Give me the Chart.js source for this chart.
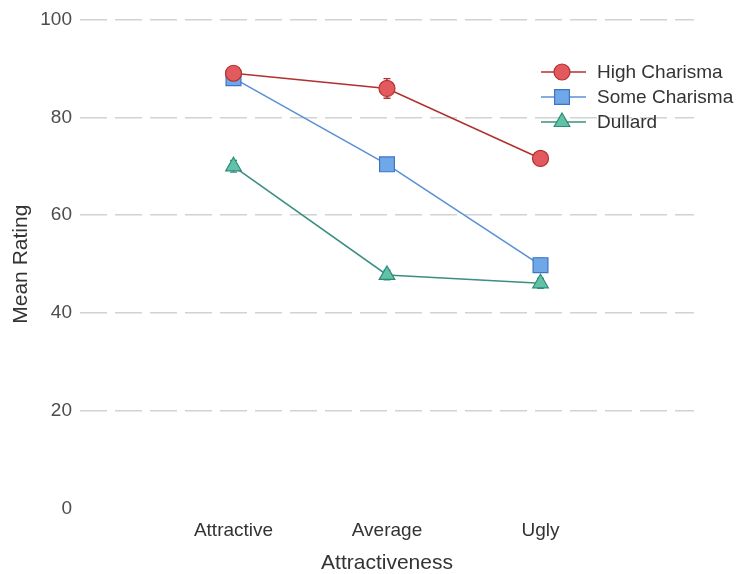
<!DOCTYPE html>
<html>
<head>
<meta charset="utf-8">
<script src="https://cdn.jsdelivr.net/npm/chart.js@4/dist/chart.umd.min.js"></script>
<style>
  html, body { margin: 0; padding: 0; background: #ffffff; }
  #wrap { width: 737px; height: 574px; position: relative; }
</style>
</head>
<body>
<div id="wrap"><canvas id="c" width="737" height="574"></canvas></div>
<script>
const categories = ['Attractive', 'Average', 'Ugly'];
const seriesNames = ['High Charisma', 'Some Charisma', 'Dullard'];
const highCharisma = [89.0, 85.9, 71.6];
const someCharisma = [88.0, 70.4, 49.8];
const dullard = [70.0, 47.8, 46.1];
const highErr = [1.2, 2.0, 1.2];
const someErr = [1.2, 1.2, 1.4];
const dullErr = [1.2, 1.0, 1.0];
const yTicks = [0, 20, 40, 60, 80, 100];

const styles = [
  { line: '#b3302f', fill: '#e35a5e', border: '#b3302f', shape: 'circle', r: 8 },
  { line: '#5a91d6', fill: '#6ea8e8', border: '#3f74c2', shape: 'rect', r: 10.5 },
  { line: '#3a8f80', fill: '#62c2a8', border: '#2d8a76', shape: 'triangle', r: 9 }
];
const values = [highCharisma, someCharisma, dullard];
const errors = [highErr, someErr, dullErr];

const datasets = values.map((vals, s) => ({
  label: seriesNames[s],
  data: vals.map((v, i) => ({ x: i + 1, y: v })),
  borderColor: styles[s].line,
  borderWidth: 1.6,
  backgroundColor: styles[s].fill,
  pointBackgroundColor: styles[s].fill,
  pointBorderColor: styles[s].border,
  pointBorderWidth: 1.2,
  pointStyle: styles[s].shape,
  pointRadius: styles[s].r,
  pointHoverRadius: styles[s].r,
  tension: 0,
  fill: false
}));

const errorBarPlugin = {
  id: 'errorBars',
  beforeDatasetsDraw(chart) {
    const ctx = chart.ctx;
    const xs = chart.scales.x, ys = chart.scales.y;
    ctx.save();
    errors.forEach((errs, s) => {
      ctx.strokeStyle = styles[s].line;
      ctx.lineWidth = 1.4;
      errs.forEach((e, i) => {
        const x = xs.getPixelForValue(i + 1);
        const y1 = ys.getPixelForValue(values[s][i] - e);
        const y2 = ys.getPixelForValue(values[s][i] + e);
        ctx.beginPath();
        ctx.moveTo(x, y1); ctx.lineTo(x, y2);
        ctx.moveTo(x - 3.5, y1); ctx.lineTo(x + 3.5, y1);
        ctx.moveTo(x - 3.5, y2); ctx.lineTo(x + 3.5, y2);
        ctx.stroke();
      });
    });
    ctx.restore();
  }
};

function drawShape(ctx, shape, r, x, y) {
  if (shape === 'circle') {
    ctx.arc(x, y, r, 0, Math.PI * 2);
  } else if (shape === 'rect') {
    const h = r * Math.SQRT1_2;
    ctx.rect(x - h, y - h, 2 * h, 2 * h);
  } else {
    const a = Math.PI * 2 / 3;
    ctx.moveTo(x, y - r);
    ctx.lineTo(x + r * Math.sin(a), y - r * Math.cos(a));
    ctx.lineTo(x - r * Math.sin(a), y - r * Math.cos(a));
    ctx.closePath();
  }
}

const legendPlugin = {
  id: 'customLegend',
  afterDraw(chart) {
    const ctx = chart.ctx;
    ctx.save();
    const x0 = 541, x1 = 586, mx = 562, tx = 597;
    const ys = [72, 97, 122];
    ctx.font = '19px "Liberation Sans", Arial, sans-serif';
    ctx.textBaseline = 'middle';
    ctx.textAlign = 'left';
    seriesNames.forEach((name, s) => {
      const y = ys[s];
      ctx.strokeStyle = styles[s].line;
      ctx.lineWidth = 1.6;
      ctx.beginPath(); ctx.moveTo(x0, y); ctx.lineTo(x1, y); ctx.stroke();
      ctx.fillStyle = styles[s].fill;
      ctx.strokeStyle = styles[s].border;
      ctx.lineWidth = 1.2;
      ctx.beginPath();
      drawShape(ctx, styles[s].shape, styles[s].r, mx, y);
      ctx.fill(); ctx.stroke();
      ctx.fillStyle = '#333333';
      ctx.fillText(name, tx, y + 1);
    });
    ctx.restore();
  }
};

Chart.defaults.font.family = '"Liberation Sans", Arial, sans-serif';
Chart.defaults.color = '#4d4d4d';

new Chart(document.getElementById('c'), {
  type: 'line',
  data: { datasets },
  options: {
    responsive: false,
    animation: false,
    devicePixelRatio: 1,
    layout: { padding: { left: 0, top: 16, right: 43, bottom: 0 } },
    plugins: { legend: { display: false }, tooltip: { enabled: false } },
    scales: {
      x: {
        type: 'linear',
        min: 0, max: 4,
        afterFit(scale) { scale.height = 65; },
        grid: { display: false, drawTicks: false },
        border: { display: false },
        ticks: {
          stepSize: 1,
          padding: 10,
          maxRotation: 0,
          autoSkip: false,
          font: { size: 19 },
          color: '#333333',
          callback: (v) => (v >= 1 && v <= categories.length && Number.isInteger(v)) ? categories[v - 1] : ''
        },
        title: {
          display: true,
          text: 'Attractiveness',
          font: { size: 21 },
          color: '#333333',
          padding: { top: 0, bottom: -2 }
        }
      },
      y: {
        type: 'linear',
        min: 0, max: 100,
        afterFit(scale) { scale.width = 80; },
        afterBuildTicks(scale) { scale.ticks = yTicks.map(v => ({ value: v })); },
        grid: {
          drawTicks: false,
          lineWidth: 1.5,
          color: (ctx) => ctx.tick && ctx.tick.value === 0 ? 'rgba(0,0,0,0)' : '#d2d2d2'
        },
        border: { display: false, dash: [27, 8] },
        ticks: {
          padding: 8,
          font: { size: 19 },
          color: '#4d4d4d'
        },
        title: {
          display: true,
          text: 'Mean Rating',
          font: { size: 21 },
          color: '#333333',
          padding: { top: 9, bottom: 0 }
        }
      }
    }
  },
  plugins: [errorBarPlugin, legendPlugin]
});
</script>
</body>
</html>
